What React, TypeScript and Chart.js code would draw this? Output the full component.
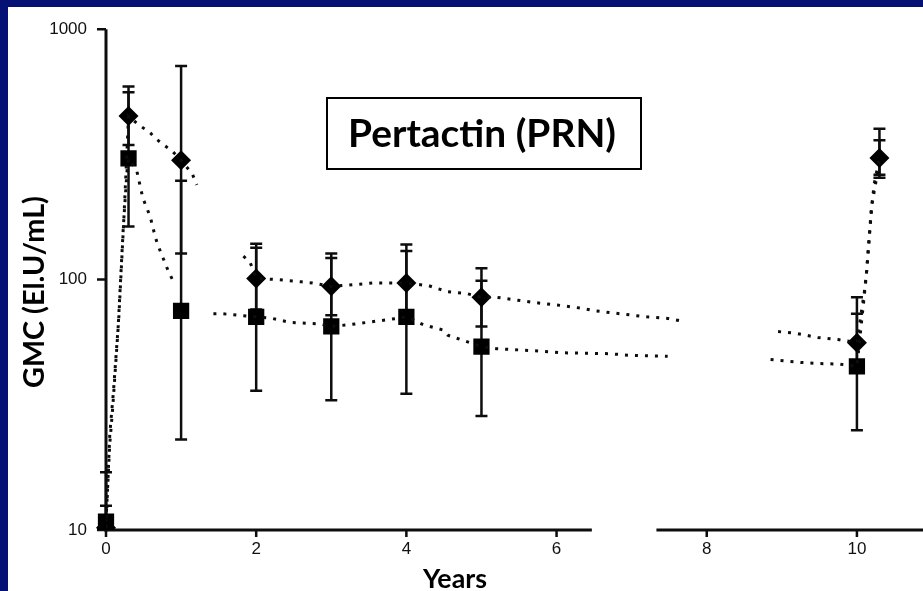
import React, { useEffect, useRef } from "react";
import { Chart, registerables } from "chart.js";

Chart.register(...registerables);

// ---- Data ----
const timePoints = [0, 0.3, 1, 2, 3, 4, 5, 10, 10.3];
const diamondGMC = [10.2, 450, 300, 101, 94, 97, 85, 56, 306];
const diamondLow = [9, 345, 127, 76, 72, 72, 65, 43, 262];
const diamondHigh = [17, 590, 713, 134, 122, 130, 111, 73, 400];
const squareGMC: (number | null)[] = [10.8, 305, 75, 71, 65, 71, 54, 45, null];
const squareLow = [9, 163, 23, 36, 33, 35, 28.5, 25, 255];
const squareHigh = [12.5, 560, 248, 139, 127, 138, 99, 85, 360];

// dotted model curves (null = gap in the curve)
const diamondCurveT = [0, 0.05, 0.1, 0.17, 0.24, 0.3, 0.41, 0.59, 0.68, 0.89, 1, 1.15, 1.21, 1.5, 1.83, 1.92, 2, 2.3, 2.6, 2.75, 3, 3.23, 3.55, 3.85, 4, 4.3, 4.55, 4.8, 5, 5.2, 5.45, 5.7, 6.08, 6.35, 6.52, 6.85, 7.2, 7.48, 7.7, 8.3, 8.95, 9.19, 9.48, 9.75, 10, 10.1, 10.13, 10.16, 10.19, 10.23, 10.3];
const diamondCurveV = [10.2, 24, 36, 70, 180, 450, 421, 385, 362, 324, 300, 264, 239, null, 124, 117, 101, 100, 98, 97, 94, 95, 97, 97, 97, 94.5, 89.4, 88, 85, 85, 83, 81, 78.7, 76.7, 75, 73, 71, 70, 68, null, 62, 61, 58.7, 57.6, 56, 90, 108, 143, 188, 241, 306];
const squareCurveT = [0, 0.05, 0.09, 0.16, 0.23, 0.28, 0.3, 0.41, 0.49, 0.59, 0.63, 0.68, 0.83, 0.9, 1.2, 1.43, 1.56, 2, 2.21, 2.45, 2.83, 3, 3.23, 3.48, 3.88, 4, 4.23, 4.48, 4.55, 5, 5.2, 5.83, 6.1, 6.7, 7.0, 7.48, 8.2, 8.85, 9.25, 9.5, 9.76, 10, 10.12, 10.2, 10.3];
const squareCurveV = [10.8, 22, 31, 63, 161, 272, 305, 272, 212, 178, 159, 140, 108, 98, null, 73, 73, 71, 70, 67.5, 66.6, 65, 66, 67.5, 70, 71, 66, 63, 60, 54, 53, 51.7, 51, 50.6, 49.8, 49.4, null, 48, 46.7, 46.2, 46, 45, 100, 200, 295];

const xTickValues = [0, 2, 4, 6, 8, 10];
const yTickValues = [10, 100, 1000];
const axisBreakFrom = 6.47;
const axisBreakTo = 7.33;

const chartTitle = "Pertactin (PRN)";
const yAxisTitle = "GMC (El.U/mL)";
const xAxisTitle = "Years";

const NAVY = "#031274";
const INK = "#0d0d0d";

export default function App() {
  const ref = useRef<HTMLCanvasElement>(null);

  useEffect(() => {
    const canvas = ref.current;
    if (!canvas) return;
    const toPts = (xs: number[], ys: (number | null)[]) => xs.map((x, i) => ({ x, y: ys[i] }));

    const fitFont = (ctx: CanvasRenderingContext2D, text: string, family: string, weight: string, width: number) => {
      ctx.font = `${weight} 30px ${family}`;
      const w = ctx.measureText(text).width;
      const size = (30 * width) / w;
      return `${weight} ${size.toFixed(2)}px ${family}`;
    };

    const bgPlugin = {
      id: "bg",
      beforeDraw(chart: any) {
        const ctx = chart.ctx;
        ctx.save();
        ctx.fillStyle = NAVY;
        ctx.fillRect(0, 0, chart.width, chart.height);
        ctx.fillStyle = "#ffffff";
        ctx.fillRect(8, 7, chart.width - 8, chart.height - 7);
        ctx.restore();
      },
    };

    const axesPlugin = {
      id: "axesBroken",
      beforeDatasetsDraw(chart: any) {
        const { ctx, chartArea, scales } = chart;
        const xs = scales.x;
        const ys = scales.y;
        ctx.save();
        ctx.strokeStyle = INK;
        ctx.lineWidth = 3;
        ctx.lineCap = "butt";
        ctx.beginPath();
        ctx.moveTo(chartArea.left, chartArea.top);
        ctx.lineTo(chartArea.left, chartArea.bottom + 1.5);
        ctx.stroke();
        ctx.beginPath();
        ctx.moveTo(chartArea.left - 1.5, chartArea.bottom);
        ctx.lineTo(xs.getPixelForValue(axisBreakFrom), chartArea.bottom);
        ctx.moveTo(xs.getPixelForValue(axisBreakTo), chartArea.bottom);
        ctx.lineTo(chartArea.right, chartArea.bottom);
        ctx.stroke();
        ctx.lineWidth = 2.5;
        ctx.beginPath();
        for (const v of yTickValues) {
          const py = ys.getPixelForValue(v);
          ctx.moveTo(chartArea.left - 9, py);
          ctx.lineTo(chartArea.left, py);
        }
        for (const v of xTickValues) {
          const px = xs.getPixelForValue(v);
          ctx.moveTo(px, chartArea.bottom);
          ctx.lineTo(px, chartArea.bottom + 7);
        }
        ctx.stroke();
        ctx.restore();
      },
    };

    const errorPlugin = {
      id: "errorBars",
      beforeDatasetsDraw(chart: any) {
        const { ctx, chartArea, scales } = chart;
        const xs = scales.x;
        const ys = scales.y;
        ctx.save();
        ctx.beginPath();
        ctx.rect(0, 0, chart.width, chartArea.bottom);
        ctx.clip();
        ctx.strokeStyle = INK;
        ctx.lineWidth = 2.5;
        const drawSet = (lo: number[], hi: number[]) => {
          timePoints.forEach((t, i) => {
            const px = xs.getPixelForValue(t);
            const pLo = ys.getPixelForValue(Math.max(lo[i], 9));
            const pHi = ys.getPixelForValue(hi[i]);
            ctx.beginPath();
            ctx.moveTo(px, pLo);
            ctx.lineTo(px, pHi);
            ctx.moveTo(px - 6, pHi);
            ctx.lineTo(px + 6, pHi);
            if (lo[i] >= 10) {
              ctx.moveTo(px - 6, pLo);
              ctx.lineTo(px + 6, pLo);
            }
            ctx.stroke();
          });
        };
        drawSet(squareLow, squareHigh);
        drawSet(diamondLow, diamondHigh);
        ctx.restore();
      },
    };

    const textPlugin = {
      id: "texts",
      afterDraw(chart: any) {
        const ctx = chart.ctx;
        ctx.save();
        ctx.fillStyle = "#ffffff";
        ctx.fillRect(327, 98, 314, 71);
        ctx.strokeStyle = "#000";
        ctx.lineWidth = 2;
        ctx.strokeRect(327, 98, 314, 71);
        ctx.fillStyle = "#000";
        ctx.font = fitFont(ctx, chartTitle, "Lato", "bold", 268);
        ctx.textAlign = "center";
        ctx.textBaseline = "alphabetic";
        ctx.fillText(chartTitle, 482, 147);
        ctx.save();
        ctx.translate(44, 292);
        ctx.rotate(-Math.PI / 2);
        ctx.font = fitFont(ctx, yAxisTitle, "Lato", "bold", 192);
        ctx.textAlign = "center";
        ctx.fillText(yAxisTitle, 0, 0);
        ctx.restore();
        ctx.font = fitFont(ctx, xAxisTitle, "Lato", "bold", 64);
        ctx.textAlign = "center";
        ctx.fillText(xAxisTitle, 455, 588);
        ctx.restore();
      },
    };

    const tickFont = { family: "'Liberation Sans', Arial, sans-serif", size: 17 };
    const dotted = {
      type: "line",
      borderColor: INK,
      borderWidth: 3,
      borderDash: [3, 7],
      borderCapStyle: "butt",
      pointRadius: 0,
      fill: false,
      spanGaps: false,
      tension: 0,
    };

    const chart = new Chart(canvas, {
      type: "scatter",
      data: {
        datasets: [
          { ...dotted, data: toPts(diamondCurveT, diamondCurveV) },
          { ...dotted, data: toPts(squareCurveT, squareCurveV) },
          {
            type: "scatter",
            data: toPts(timePoints, squareGMC),
            pointStyle: "rect",
            pointRadius: 11.5,
            backgroundColor: "#000",
            borderColor: "#000",
            borderWidth: 0,
            clip: { left: 20, top: 20, right: 20, bottom: 0 },
          },
          {
            type: "scatter",
            data: toPts(timePoints, diamondGMC),
            pointStyle: "rectRot",
            pointRadius: 10,
            backgroundColor: "#000",
            borderColor: "#000",
            borderWidth: 0,
            clip: { left: 20, top: 20, right: 20, bottom: 0 },
          },
        ] as any,
      },
      options: {
        responsive: false,
        animation: false,
        events: [],
        layout: { autoPadding: false, padding: { top: 28, right: 0, left: 0, bottom: 0 } },
        plugins: { legend: { display: false }, tooltip: { enabled: false }, title: { display: false } },
        scales: {
          x: {
            type: "linear",
            min: 0,
            max: 10.88,
            afterBuildTicks: (s: any) => {
              s.ticks = xTickValues.map((v) => ({ value: v }));
            },
            afterFit: (s: any) => {
              s.height = 61;
              s.paddingRight = 0;
              s.paddingLeft = 0;
            },
            grid: { display: false, drawTicks: false },
            border: { display: false },
            ticks: { font: tickFont, color: "#111", padding: 9, maxRotation: 0, autoSkip: false, callback: (v: any) => String(v) },
          },
          y: {
            type: "logarithmic",
            min: 10,
            max: 1000,
            afterBuildTicks: (s: any) => {
              s.ticks = yTickValues.map((v) => ({ value: v }));
            },
            afterFit: (s: any) => {
              s.width = 106;
            },
            grid: { display: false, drawTicks: false },
            border: { display: false },
            ticks: { font: tickFont, color: "#111", padding: 19, autoSkip: false, callback: (v: any) => String(v) },
          },
        },
      } as any,
      plugins: [bgPlugin, axesPlugin, errorPlugin, textPlugin],
    });

    return () => chart.destroy();
  }, []);

  return (
    <div style={{ position: "fixed", left: 0, top: 0, width: 923, height: 591, overflow: "hidden" }}>
      <canvas ref={ref} width={923} height={591} style={{ display: "block", width: 923, height: 591 }} />
    </div>
  );
}
